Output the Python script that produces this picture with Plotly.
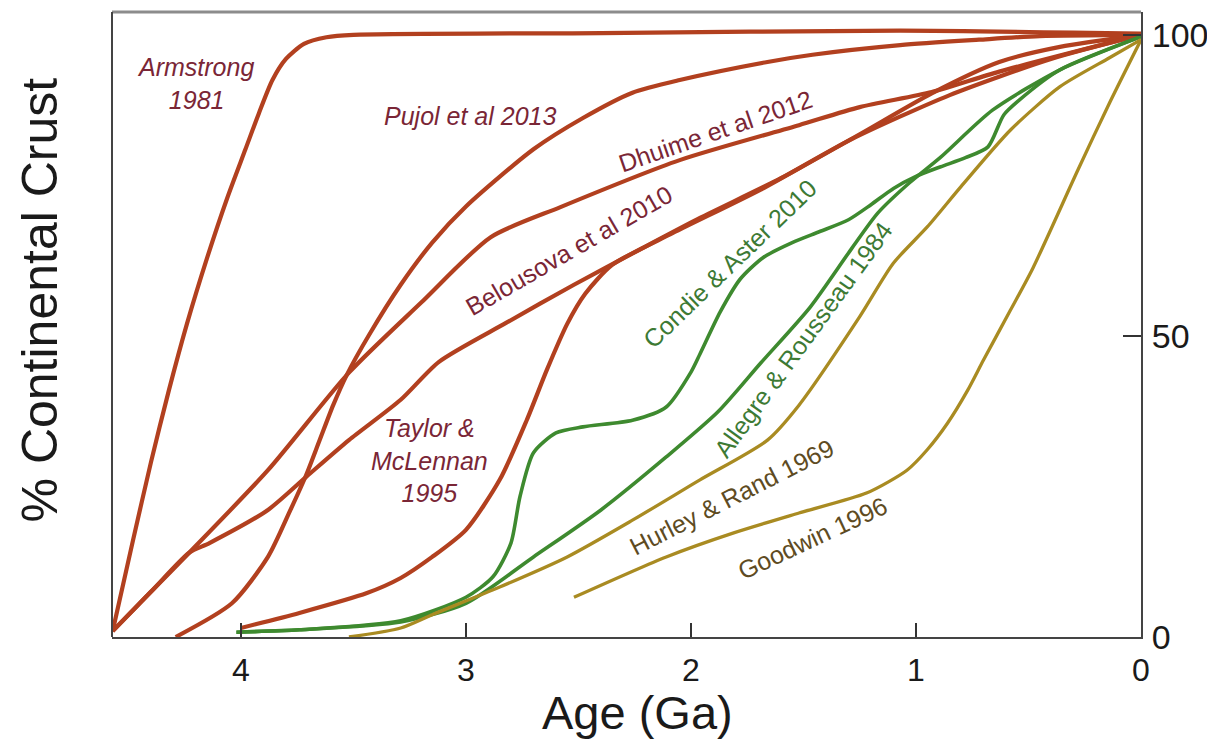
import plotly.graph_objects as go

# ---- data (age in Ga, % continental crust) ----
armstrong_age = [4.57, 4.48, 4.40, 4.32, 4.24, 4.15, 4.06, 3.98, 3.92, 3.86, 3.80, 3.72, 3.62, 3.50, 2.40, 1.07, 0.0]
armstrong_pct = [1.0, 16.0, 29.0, 41.0, 52.0, 63.0, 73.0, 81.0, 87.0, 92.5, 96.0, 98.5, 99.6, 100.0, 100.3, 100.7, 100.2]

pujol_age = [4.29, 4.04, 3.88, 3.78, 3.71, 3.65, 3.59, 3.53, 3.43, 3.29, 3.15, 3.00, 2.70, 2.48, 2.26, 2.05, 1.66, 1.46, 1.07, 0.72, 0.45, 0.0]
pujol_pct = [0.0, 5.6, 13.3, 21.1, 26.9, 32.7, 38.5, 43.5, 50.2, 58.5, 65.5, 71.5, 81.0, 86.2, 90.4, 92.5, 95.5, 96.7, 98.3, 99.2, 99.8, 100.0]

dhuime_age = [4.57, 4.40, 4.23, 3.88, 3.52, 3.20, 2.89, 2.58, 2.05, 1.52, 1.25, 0.93, 0.63, 0.0]
dhuime_pct = [1.0, 7.5, 14.0, 27.7, 43.9, 55.5, 66.4, 71.4, 79.2, 85.0, 88.0, 90.5, 93.9, 100.0]

belousova_age = [4.57, 4.40, 4.23, 4.14, 3.88, 3.71, 3.52, 3.29, 3.12, 2.82, 2.52, 2.23, 1.96, 1.60, 1.25, 0.93, 0.63, 0.36, 0.0]
belousova_pct = [1.0, 7.5, 14.0, 15.6, 21.1, 26.6, 32.7, 39.4, 45.7, 52.2, 58.5, 64.3, 69.6, 76.2, 83.5, 90.3, 95.5, 98.0, 100.0]

taylor_age = [4.00, 3.74, 3.44, 3.29, 3.15, 3.00, 2.85, 2.73, 2.64, 2.55, 2.47, 2.35, 2.08, 1.69, 1.29, 0.85, 0.40, 0.0]
taylor_pct = [1.5, 4.0, 7.3, 9.8, 13.3, 17.8, 26.1, 36.0, 44.4, 52.0, 57.0, 61.8, 67.1, 74.3, 82.6, 90.0, 96.0, 100.0]

condie_age = [4.02, 3.74, 3.29, 3.00, 2.88, 2.80, 2.76, 2.70, 2.60, 2.48, 2.26, 2.11, 2.00, 1.96, 1.87, 1.78, 1.68, 1.55, 1.43, 1.30, 1.20, 1.10, 1.00, 0.89, 0.78, 0.68, 0.61, 0.54, 0.36, 0.0]
condie_pct = [0.8, 1.2, 2.7, 6.6, 10.0, 15.6, 23.3, 30.6, 33.9, 34.9, 36.0, 38.2, 44.0, 47.0, 54.0, 59.5, 63.0, 65.5, 67.3, 69.3, 71.8, 74.5, 76.5, 78.1, 79.6, 81.4, 86.7, 89.2, 94.2, 99.7]

allegre_age = [4.02, 3.74, 3.29, 3.00, 2.70, 2.40, 2.11, 1.88, 1.69, 1.47, 1.29, 1.17, 1.03, 0.89, 0.66, 0.36, 0.0]
allegre_pct = [0.8, 1.2, 2.5, 5.6, 13.3, 21.1, 29.9, 37.4, 45.5, 54.8, 64.3, 70.4, 75.4, 79.7, 87.5, 94.2, 99.7]

hurley_age = [3.52, 3.29, 3.15, 2.85, 2.55, 2.26, 1.96, 1.66, 1.52, 1.25, 1.10, 0.95, 0.80, 0.58, 0.36, 0.14, 0.0]
hurley_pct = [0.0, 1.5, 3.7, 8.3, 13.3, 19.4, 26.1, 32.7, 38.5, 53.2, 62.1, 68.1, 74.8, 84.2, 91.4, 96.2, 99.2]

goodwin_age = [2.52, 2.11, 1.81, 1.52, 1.22, 1.04, 0.95, 0.86, 0.77, 0.70, 0.58, 0.48, 0.28, 0.14, 0.0]
goodwin_pct = [6.6, 13.3, 17.3, 20.6, 23.9, 27.7, 31.1, 35.5, 41.0, 46.0, 54.3, 61.3, 77.6, 88.7, 99.2]

x_ticks = [4, 3, 2, 1, 0]
y_ticks = [0, 50, 100]

RED = "#b2401f"
GREEN = "#3e8a2f"
OLIVE = "#a98b22"
RED_TXT = "#7a2636"
GREEN_TXT = "#3d7a34"
OLIVE_TXT = "#5e4b22"

series = [
    (armstrong_age, armstrong_pct, RED, 4.2),
    (pujol_age, pujol_pct, RED, 4.2),
    (dhuime_age, dhuime_pct, RED, 4.2),
    (belousova_age, belousova_pct, RED, 4.2),
    (taylor_age, taylor_pct, RED, 4.2),
    (condie_age, condie_pct, GREEN, 3.6),
    (allegre_age, allegre_pct, GREEN, 3.6),
    (hurley_age, hurley_pct, OLIVE, 3.3),
    (goodwin_age, goodwin_pct, OLIVE, 3.3),
]

fig = go.Figure()
for xs, ys, col, w in series:
    fig.add_trace(go.Scatter(x=xs, y=ys, mode="lines",
                             line=dict(color=col, width=w, shape="spline", smoothing=0.7),
                             showlegend=False, hoverinfo="skip"))

FONT = "Liberation Sans, Arial, sans-serif"
labels = [
    ("<i>Armstrong</i><br><i>1981</i>", 4.20, 92.0, 0, RED_TXT),
    ("<i>Pujol et al 2013</i>", 2.98, 86.5, 0, RED_TXT),
    ("Dhuime et al 2012", 1.89, 84.0, -19, RED_TXT),
    ("Belousova et al 2010", 2.54, 64.3, -30, RED_TXT),
    ("<i>Taylor &amp;</i><br><i>McLennan</i><br><i>1995</i>", 3.16, 29.3, 0, RED_TXT),
    ("Condie &amp; Aster 2010", 1.83, 62.0, -44, GREEN_TXT),
    ("Allegre &amp; Rousseau 1984", 1.50, 49.5, -54, GREEN_TXT),
    ("Hurley &amp; Rand 1969", 1.82, 23.3, -27, OLIVE_TXT),
    ("Goodwin 1996", 1.46, 16.4, -25, OLIVE_TXT),
]
for txt, x, y, ang, col in labels:
    fig.add_annotation(x=x, y=y, text=txt, showarrow=False, textangle=ang,
                       font=dict(family=FONT, size=25, color=col),
                       xanchor="center", yanchor="middle")

# axis titles
fig.add_annotation(xref="paper", yref="paper", x=0.511, y=-0.121, text="Age (Ga)",
                   showarrow=False, font=dict(family=FONT, size=47, color="#1a1a1a"),
                   xanchor="center", yanchor="middle")
fig.add_annotation(xref="paper", yref="paper", x=-0.07, y=0.54, text="% Continental Crust",
                   showarrow=False, textangle=-90, font=dict(family=FONT, size=50, color="#1a1a1a"),
                   xanchor="center", yanchor="middle")

# frame: top (grey) and left borders
fig.add_shape(type="line", xref="paper", yref="paper", x0=0, x1=1, y0=1, y1=1,
              line=dict(color="#8c8c8c", width=3))
fig.add_shape(type="line", xref="paper", yref="paper", x0=0, x1=0, y0=0, y1=1,
              line=dict(color="#444444", width=2))

# the page body adds an 8 px offset, so the figure is 8 px smaller and shifted
fig.update_layout(
    width=1207, height=734,
    margin=dict(l=104, r=74, t=4, b=105),
    paper_bgcolor="white", plot_bgcolor="white",
    xaxis=dict(range=[4.573, 0], tickvals=x_ticks, ticktext=[str(v) for v in x_ticks],
               ticks="inside", ticklen=14, tickwidth=2, tickcolor="#333", automargin=False,
               showline=True, linecolor="#444", linewidth=2, showgrid=False, zeroline=False,
               tickfont=dict(family=FONT, size=32, color="#1a1a1a"), ticklabelstandoff=4),
    yaxis=dict(range=[0, 103.8], side="right", tickvals=y_ticks, ticktext=[str(v) for v in y_ticks],
               ticks="inside", ticklen=18, tickwidth=2, tickcolor="#333", automargin=False,
               showline=True, linecolor="#444", linewidth=2, showgrid=False, zeroline=False,
               tickfont=dict(family=FONT, size=34, color="#1a1a1a"), ticklabelstandoff=2),
)

fig.write_html("out.html")
